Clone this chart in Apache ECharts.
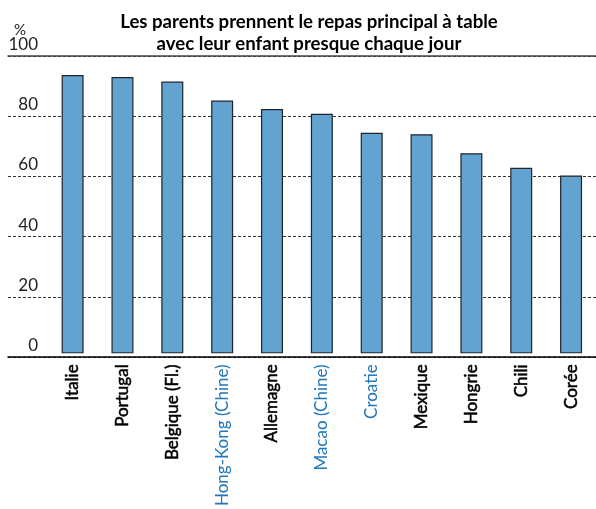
<!DOCTYPE html>
<html>
<head>
<meta charset="utf-8">
<script src="https://cdn.jsdelivr.net/npm/echarts@6/dist/echarts.min.js"></script>
<style>
html,body{margin:0;padding:0;background:#fff;}
#chart{width:596px;height:509px;}
</style>
</head>
<body>
<div id="chart"></div>
<script>
var categories = ['Italie','Portugal','Belgique (Fl.)','Hong-Kong (Chine)','Allemagne','Macao (Chine)','Croatie','Mexique','Hongrie','Chili','Corée'];
var values = [93.6, 92.9, 91.4, 85.0, 82.2, 80.6, 74.2, 73.7, 67.3, 62.4, 59.8];
var partnerEconomies = ['Hong-Kong (Chine)','Macao (Chine)','Croatie'];
var yMin = 0, yMax = 100, yStep = 20;
var titleLines = ['Les parents prennent le repas principal à table', 'avec leur enfant presque chaque jour'];
var unitLabel = '%';

var FONT = 'Lato';
var chart = echarts.init(document.getElementById('chart'), null, {renderer:'canvas'});
var option = {
  animation: false,
  backgroundColor: '#fff',
  title: {
    text: titleLines.join('\n'),
    left: 304, top: 6, textAlign: 'center',
    textStyle: {fontFamily: FONT, fontSize: 18.6, fontWeight: 'bold', color: '#000', lineHeight: 22}
  },
  graphic: [{
    type: 'text', left: 14, top: 23,
    style: {text: unitLabel, fontFamily: FONT, fontSize: 15, fill: '#222'}
  }],
  grid: [
    {left: 8, right: 0, top: 56, height: 301},
    {left: 47.7, width: 556.6, top: 56, height: 301}
  ],
  xAxis: [
    {gridIndex: 0, type: 'category', data: [''], position: 'bottom',
     axisLine: {show: true, lineStyle: {color: '#000', width: 1.5}}, axisTick: {show: false}, axisLabel: {show: false}},
    {gridIndex: 0, type: 'category', data: [''], position: 'top',
     axisLine: {show: true, lineStyle: {color: '#444', width: 1.5}}, axisTick: {show: false}, axisLabel: {show: false}},
    {gridIndex: 1, type: 'category', data: categories,
     axisLine: {show: false}, axisTick: {show: false},
     axisLabel: {
       rotate: 90, margin: 11, interval: 0,
       formatter: function (v) { return partnerEconomies.indexOf(v) >= 0 ? '{p|' + v + '}' : '{o|' + v + '}'; },
       rich: {
         p: {fontFamily: FONT, fontSize: 17, fontWeight: 'normal', color: '#2277bb'},
         o: {fontFamily: FONT, fontSize: 17, fontWeight: 'normal', color: '#000', textBorderColor: '#000', textBorderWidth: 0.5}
       }
     }}
  ],
  yAxis: [
    {gridIndex: 0, type: 'value', min: yMin, max: yMax, interval: yStep,
     axisLine: {show: false}, axisTick: {show: false},
     axisLabel: {inside: true, margin: 30, align: 'right', verticalAlign: 'bottom', padding: [0,0,3,0],
                 fontFamily: FONT, fontSize: 17, color: '#222',
                 formatter: function (v) { return v; }},
     splitLine: {show: true, lineStyle: {color: '#333', type: [3, 2], width: 1}}},
    {gridIndex: 1, type: 'value', min: yMin, max: yMax, interval: yStep, show: false, splitLine: {show: false}}
  ],
  series: [{
    type: 'bar', xAxisIndex: 2, yAxisIndex: 1, data: values, barWidth: 22,
    itemStyle: {color: '#62A3CF', borderColor: '#1f242b', borderWidth: 1.2}
  }]
};
chart.setOption(option);
</script>
</body>
</html>
